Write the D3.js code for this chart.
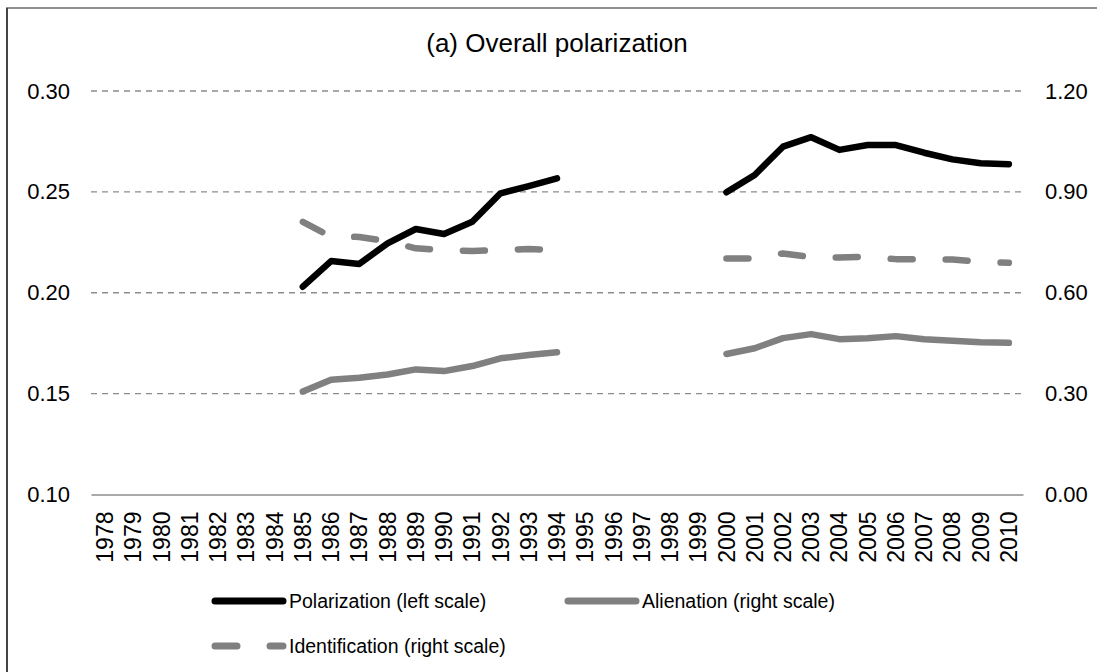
<!DOCTYPE html>
<html>
<head>
<meta charset="utf-8">
<script src="https://cdn.jsdelivr.net/npm/d3@7"></script>
<style>
  body { margin: 0; background: #fff; }
  svg text { font-family: "Liberation Sans", Arial, sans-serif; fill: #000; }
</style>
</head>
<body>
<svg id="chart" width="1097" height="672"></svg>
<script>
// Categories
var years = ["1978","1979","1980","1981","1982","1983","1984","1985","1986","1987","1988",
             "1989","1990","1991","1992","1993","1994","1995","1996","1997","1998","1999",
             "2000","2001","2002","2003","2004","2005","2006","2007","2008","2009","2010"];

// Series (null = no survey that year)
var polarization = [null,null,null,null,null,null,null,
  0.2030,0.2157,0.2143,0.2245,0.2316,0.2291,0.2352,0.2493,0.2529,0.2567,
  null,null,null,null,null,
  0.2498,0.2584,0.2724,0.2771,0.2708,0.2732,0.2732,0.2694,0.2661,0.2642,0.2637];

var alienation = [null,null,null,null,null,null,null,
  0.306,0.341,0.347,0.357,0.372,0.367,0.382,0.405,0.415,0.423,
  null,null,null,null,null,
  0.418,0.435,0.465,0.477,0.462,0.465,0.471,0.462,0.457,0.453,0.451];

var identification = [null,null,null,null,null,null,null,
  0.811,0.767,0.766,0.753,0.732,0.727,0.724,0.727,0.730,0.727,
  null,null,null,null,null,
  0.702,0.702,0.717,0.706,0.705,0.707,0.700,0.700,0.699,0.692,0.689];

// Tick labels
var leftTicks  = [0.10, 0.15, 0.20, 0.25, 0.30];
var rightTicks = [0.00, 0.30, 0.60, 0.90, 1.20];

var title = "(a) Overall polarization";

var legendItems = [
  { name: "Polarization (left scale)",   color: "#000000", dash: null },
  { name: "Alienation (right scale)",    color: "#808080", dash: null },
  { name: "Identification (right scale)", color: "#808080", dash: "22,33" }
];

// Layout
var svg = d3.select("#chart");
var plotLeft = 91, plotRight = 1023, plotTop = 91, plotBottom = 494.5;

var x = d3.scaleBand().domain(years).range([plotLeft, plotRight]);
var yL = d3.scaleLinear().domain([0.10, 0.30]).range([plotBottom, plotTop]);
var yR = d3.scaleLinear().domain([0.00, 1.20]).range([plotBottom, plotTop]);

// Frame (top and left edges visible)
svg.append("line").attr("x1", 6).attr("x2", 1097).attr("y1", 8).attr("y2", 8)
  .attr("stroke", "#222").attr("stroke-width", 1.2);
svg.append("line").attr("x1", 7).attr("x2", 7).attr("y1", 8).attr("y2", 672)
  .attr("stroke", "#444").attr("stroke-width", 2);

// Title
svg.append("text")
  .attr("x", (plotLeft + plotRight) / 2).attr("y", 52)
  .attr("text-anchor", "middle")
  .style("font-size", "26px")
  .text(title);

// Gridlines
svg.append("g").selectAll("line")
  .data(leftTicks.slice(1))
  .enter().append("line")
  .attr("x1", plotLeft).attr("x2", plotRight - 2)
  .attr("y1", function(d) { return yL(d); })
  .attr("y2", function(d) { return yL(d); })
  .attr("stroke", "#8c8c8c").attr("stroke-width", 1.3)
  .attr("stroke-dasharray", "6,5");

// Left axis
var gL = svg.append("g").attr("transform", "translate(" + plotLeft + ",0)")
  .call(d3.axisLeft(yL).tickValues(leftTicks).tickFormat(d3.format(".2f")).tickSize(0).tickPadding(21));
gL.select(".domain").remove();
gL.selectAll("text").style("font-size", "22px").attr("font-family", null);

// Right axis
var gR = svg.append("g").attr("transform", "translate(" + plotRight + ",0)")
  .call(d3.axisRight(yR).tickValues(rightTicks).tickFormat(d3.format(".2f")).tickSize(0).tickPadding(22));
gR.select(".domain").remove();
gR.selectAll("text").style("font-size", "22px").attr("font-family", null);

// Bottom axis with rotated years
var gX = svg.append("g").attr("transform", "translate(0," + plotBottom + ")")
  .call(d3.axisBottom(x).tickSize(0).tickSizeOuter(0));
gX.select(".domain").attr("stroke", "#8c8c8c").attr("stroke-width", 1.6);
gX.selectAll(".tick text")
  .attr("font-family", null)
  .style("font-size", "23px")
  .attr("text-anchor", "end")
  .attr("transform", "translate(0,17) rotate(-90)")
  .attr("x", 0).attr("y", 0).attr("dy", "0.35em");

// Lines
var lineL = d3.line()
  .defined(function(d) { return d.v !== null; })
  .x(function(d) { return x(d.year) + x.bandwidth() / 2; })
  .y(function(d) { return yL(d.v); });
var lineR = d3.line()
  .defined(function(d) { return d.v !== null; })
  .x(function(d) { return x(d.year) + x.bandwidth() / 2; })
  .y(function(d) { return yR(d.v); });

function pairs(values) {
  return years.map(function(yr, i) { return { year: yr, v: values[i] }; });
}

var seriesDefs = [
  { data: pairs(alienation),     line: lineR, item: legendItems[1] },
  { data: pairs(identification), line: lineR, item: legendItems[2] },
  { data: pairs(polarization),   line: lineL, item: legendItems[0] }
];

svg.append("g").selectAll("path")
  .data(seriesDefs)
  .enter().append("path")
  .attr("d", function(s) { return s.line(s.data); })
  .attr("fill", "none")
  .attr("stroke", function(s) { return s.item.color; })
  .attr("stroke-width", 6.5)
  .attr("stroke-linejoin", "round")
  .attr("stroke-linecap", "round")
  .attr("stroke-dasharray", function(s) { return s.item.dash; });

// Legend
var legendPos = [ { x: 215, y: 601 }, { x: 568, y: 601 }, { x: 215, y: 646 } ];
var lg = svg.append("g").selectAll("g")
  .data(legendItems)
  .enter().append("g")
  .attr("transform", function(d, i) { return "translate(" + legendPos[i].x + "," + legendPos[i].y + ")"; });

lg.append("line")
  .attr("x1", 0).attr("x2", 68).attr("y1", 0).attr("y2", 0)
  .attr("stroke", function(d) { return d.color; })
  .attr("stroke-width", 7)
  .attr("stroke-linecap", "round")
  .attr("stroke-dasharray", function(d) { return d.dash; });

lg.append("text")
  .attr("x", 74).attr("y", 0).attr("dy", "0.35em")
  .style("font-size", "19.5px")
  .text(function(d) { return d.name; });
</script>
</body>
</html>
